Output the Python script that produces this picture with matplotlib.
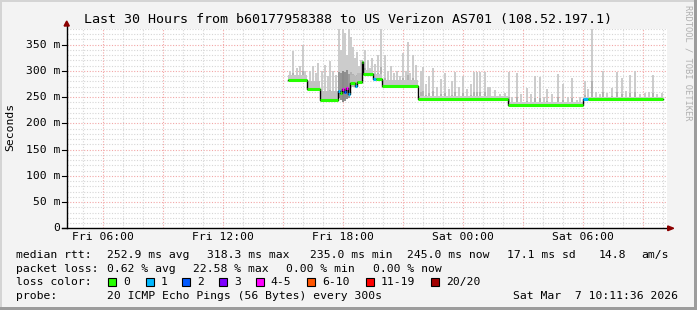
import numpy as np
import matplotlib
matplotlib.use("Agg")
import matplotlib.pyplot as plt
from matplotlib.patches import Rectangle, Polygon

# time axis: hours since Fri 04:11:36, 30 hours total
first_hour_offset = 0.8067      # Fri 05:00
first_hour_clock = 5
x_labels = ["Fri 06:00", "Fri 12:00", "Fri 18:00", "Sat 00:00", "Sat 06:00"]
y_ticks = [0, 50, 100, 150, 200, 250, 300, 350]
y_tick_labels = ["0", "50 m", "100 m", "150 m", "200 m", "250 m", "300 m", "350 m"]

# median rtt steps (ms) with loss class and smoke band
seg_start = [11.07, 12.02, 12.67, 13.57, 13.67, 13.77, 13.87, 13.97, 14.07, 14.17,
             14.40, 14.50, 14.74, 14.82, 15.32, 15.45, 15.77, 17.57, 22.07, 25.82, 26.05]
seg_end = seg_start[1:] + [29.82]
seg_median = [282, 266, 245, 262, 258, 266, 260, 268, 255, 276,
              272, 278, 317, 294, 284, 284, 271, 246, 235, 246, 246]
seg_loss = [0, 0, 0, 1, 0, 4, 2, 4, 1, 0,
            1, 0, 0, 0, 1, 0, 0, 0, 0, 1, 0]
seg_smoke_hi = [292, 280, 262, 298, 296, 300, 298, 302, 294, 292,
                290, 295, 320, 302, 296, 294, 282, 252, 240, 250, 250]
seg_smoke_lo = [280, 264, 244, 248, 244, 240, 242, 246, 248, 270,
                268, 274, 300, 292, 282, 282, 270, 245, 234, 245, 245]

# single-sample spikes (hours, top ms)
spike_h = [11.17, 11.32, 11.52, 11.67, 11.82, 11.92,
           12.17, 12.32, 12.47, 12.57,
           12.77, 12.92, 13.07, 13.17, 13.32, 13.47,
           13.62, 13.72, 13.82, 13.92, 14.02, 14.12, 14.22, 14.32, 14.42, 14.52, 14.62, 14.72,
           14.92, 15.07, 15.17, 15.27, 15.42, 15.57, 15.72,
           15.92, 16.07, 16.22, 16.37, 16.52, 16.67, 16.82, 16.97, 17.07, 17.17, 17.32, 17.47,
           17.72, 17.82, 17.97, 18.12, 18.32, 18.52, 18.72, 18.92, 19.12, 19.27, 19.42, 19.62,
           19.82, 20.02, 20.22, 20.37, 20.52, 20.67, 20.92, 21.07, 21.17, 21.42, 21.67, 21.92,
           22.12, 22.27, 22.52, 22.72, 23.02, 23.22, 23.42, 23.67, 23.87, 24.02, 24.27, 24.57,
           24.82, 25.07, 25.27, 25.52, 25.67,
           25.92, 26.07, 26.27, 26.47, 26.67, 26.82, 27.02, 27.27, 27.52, 27.77, 27.97, 28.17,
           28.42, 28.67, 28.92, 29.12, 29.32, 29.52, 29.77]
spike_top = [300, 338, 305, 310, 350, 300,
             300, 310, 296, 315,
             300, 312, 290, 318, 300, 292,
             380, 340, 380, 372, 330, 380, 365, 345, 325, 335, 310, 320,
             340, 320, 305, 325, 312, 330, 380,
             330, 300, 310, 295, 300, 290, 333, 300, 354, 295, 331, 311,
             300, 308, 275, 290, 306, 270, 285, 296, 265, 280, 298, 270,
             290, 265, 275, 298, 298, 298, 298, 270, 270, 263, 255, 257,
             298, 250, 295, 255, 268, 255, 290, 288, 250, 265, 255, 294,
             275, 250, 286, 245, 250,
             281, 265, 381, 260, 255, 299, 258, 268, 297, 287, 262, 292,
             299, 255, 258, 260, 292, 255, 258]

loss_colors = ["#26ff00", "#00b8ff", "#0059ff", "#7e00ff", "#ff00ff", "#ff5500", "#ff0000", "#a10000"]
loss_names = ["0", "1", "2", "3", "4-5", "6-10", "11-19", "20/20"]

W, H = 697, 310


def fx(x):
    return x / W


def fy(y):
    return 1 - y / H


fig = plt.figure(figsize=(W / 100, H / 100), dpi=100)
fig.patch.set_facecolor("#f3f3f3")
mono = "DejaVu Sans Mono"

x0, x1 = 66.7, 666.7
ytop, ybot = 28.5, 228.3
ymax = (ybot - ytop) / 0.525
ax = fig.add_axes([fx(x0), 1 - ybot / H, (x1 - x0) / W, (ybot - ytop) / H])
ax.set_xlim(0, 30)
ax.set_ylim(0, ymax)
ax.set_facecolor("#ffffff")
for s in ax.spines.values():
    s.set_visible(False)
ax.set_xticks([])
ax.set_yticks([])

# grid
for v in range(10, int(ymax) + 1, 10):
    if v % 50 == 0:
        ax.axhline(v, color="#f2a6a6", lw=0.8, ls=(0, (1, 1.5)), zorder=0)
    else:
        ax.axhline(v, color="#d6d6d6", lw=0.8, ls=(0, (1, 1.5)), zorder=0)
for k in range(30):
    h = first_hour_offset + k
    if h > 30:
        break
    clock = (first_hour_clock + k) % 24
    if clock % 3 == 0:
        ax.axvline(h, color="#f2a6a6", lw=0.8, ls=(0, (1, 1.5)), zorder=0)
    else:
        ax.axvline(h, color="#d6d6d6", lw=0.8, ls=(0, (1, 1.5)), zorder=0)

# spikes (light, drawn below the dense smoke)
starts = np.array(seg_start)
med = np.array(seg_median)
for h, top in zip(spike_h, spike_top):
    base = med[np.searchsorted(starts, h, side="right") - 1]
    ax.bar(h, top - base, bottom=base, width=1 / 12, color="#cccccc", lw=0, zorder=1)
    ax.bar(h, (top - base) * 0.25, bottom=base, width=1 / 12, color="#b2b2b2", lw=0, zorder=1)

# smoke band: darker where the pings spread wider
for a, b, lo, hi in zip(seg_start, seg_end, seg_smoke_lo, seg_smoke_hi):
    g = float(np.clip(0.84 - (hi - lo) * 0.005, 0.5, 0.8))
    ax.fill_between([a, b], lo, hi, color=(g, g, g), lw=0, zorder=2)

# median line: black steps then loss coloured segments
sx = []
sy = []
for a, b, m in zip(seg_start, seg_end, seg_median):
    sx += [a, b]
    sy += [m, m]
ax.plot(sx, sy, color="black", lw=1.0, zorder=3)
for a, b, m, l in zip(seg_start, seg_end, seg_median, seg_loss):
    ax.plot([a, b], [m, m], color=loss_colors[l], lw=2.2, solid_capstyle="butt", zorder=4)

# axes with arrows
ax.plot([-0.235, 30.05], [0, 0], color="black", lw=1.0, clip_on=False, zorder=5)
ax.plot([0, 0], [0, (ybot - 25) / 0.525], color="black", lw=1.0, clip_on=False, zorder=5)
ax.add_patch(Polygon([[30.05, -4.5], [30.05, 4.5], [30.35, 0]], closed=True, color="#8b0000",
                     clip_on=False, zorder=6))
ax.add_patch(Polygon([[-0.13, (ybot - 26) / 0.525], [0.13, (ybot - 26) / 0.525], [0, (ybot - 21) / 0.525]],
                     closed=True, color="#8b0000", clip_on=False, zorder=6))
for v in y_ticks:
    ax.plot([-0.235, 0], [v, v], color="black", lw=0.8, clip_on=False, zorder=5)

# tick labels
for v, lab in zip(y_ticks, y_tick_labels):
    fig.text(fx(60.5), fy(ybot - v * 0.525), lab, ha="right", va="center", family=mono, fontsize=8.2)
for i, lab in enumerate(x_labels):
    h = first_hour_offset + 1 + 6 * i
    fig.text(fx(x0 + h * 20), fy(237.5), lab, ha="center", va="center", family=mono, fontsize=8.2)

fig.text(fx(348), fy(19), "Last 30 Hours from b60177958388 to US Verizon AS701 (108.52.197.1)",
         ha="center", va="center", family=mono, fontsize=9.6)
fig.text(fx(10), fy(127), "Seconds", rotation=90, ha="center", va="center", family=mono, fontsize=8.2)
fig.text(fx(688), fy(5), "RRDTOOL / TOBI OETIKER", rotation=-90, ha="center", va="top",
         family=mono, fontsize=6.3, color="#b0b0b0")

# legend rows
rows = [
    (255, [(16, "median rtt:"), (107.3, "252.9 ms avg"), (207.3, "318.3 ms max"), (310, "235.0 ms min"),
           (407.3, "245.0 ms now"), (506.7, "17.1 ms sd"), (598.3, "14.8"), (641.7, "am/s")]),
    (268.5, [(16, "packet loss:"), (107.3, "0.62 % avg"), (193.3, "22.58 % max"), (286, "0.00 % min"),
             (372.7, "0.00 % now")]),
    (282.3, [(16, "loss color:")]),
    (296, [(16, "probe:"), (107.3, "20 ICMP Echo Pings (56 Bytes) every 300s"),
           (513.3, "Sat Mar  7 10:11:36 2026")]),
]
for y, items in rows:
    for x, t in items:
        fig.text(fx(x), fy(y), t, ha="left", va="center", family=mono, fontsize=8.2)

box_x = [108.3, 145.7, 182.3, 219, 255.7, 307.3, 365.7, 431]
for bx, c, name in zip(box_x, loss_colors, loss_names):
    fig.add_artist(Rectangle((fx(bx), fy(286.3)), 8 / W, 8 / H, transform=fig.transFigure,
                             facecolor=c, edgecolor="black", lw=0.8))
    fig.text(fx(bx + 15), fy(282.3), name, ha="left", va="center", family=mono, fontsize=8.2)

# 3d-ish frame
fig.add_artist(Rectangle((0, 1 - 2 / H), 1, 2 / H, transform=fig.transFigure, color="#d4d4d4", lw=0))
fig.add_artist(Rectangle((0, 0), 2 / W, 1, transform=fig.transFigure, color="#d4d4d4", lw=0))
fig.add_artist(Rectangle((0, 0), 1, 3 / H, transform=fig.transFigure, color="#9c9c9c", lw=0))
fig.add_artist(Rectangle((1 - 3 / W, 0), 3 / W, 1, transform=fig.transFigure, color="#9c9c9c", lw=0))

fig.savefig("out.png", dpi=100, facecolor=fig.get_facecolor())
